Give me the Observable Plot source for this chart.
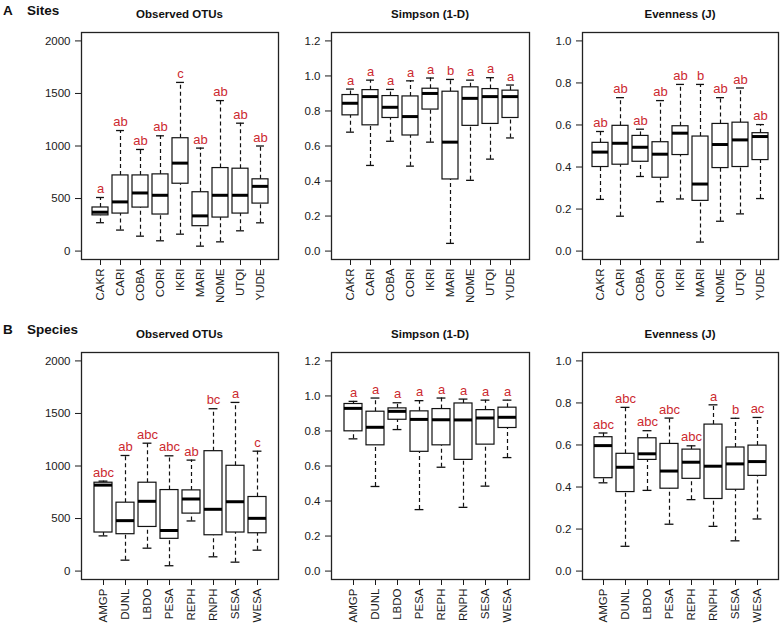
<!DOCTYPE html>
<html><head><meta charset="utf-8">
<script src="https://cdn.jsdelivr.net/npm/d3@7"></script>
<script src="https://cdn.jsdelivr.net/npm/@observablehq/plot@0.6"></script>
<style>
body{margin:0;background:#fff;font-family:"Liberation Sans",Arial,Helvetica,sans-serif;}
#root{position:relative;width:784px;height:632px;overflow:hidden;background:#fff}
.pt{position:absolute;font-weight:bold;font-size:11.5px;transform:translate(-50%,-50%);white-space:nowrap;color:#111}
.rl{position:absolute;font-weight:bold;font-size:13.5px;transform:translateY(-50%);color:#111;white-space:nowrap}
.panel{position:absolute}
</style></head><body><div id="root"></div>
<script>
// Categories
const siteCats = ["CAKR","CARI","COBA","CORI","IKRI","MARI","NOME","UTQI","YUDE"];
const speciesCats = ["AMGP","DUNL","LBDO","PESA","REPH","RNPH","SESA","WESA"];

// Box statistics per category: [lower whisker, Q1, median, Q3, upper whisker]
const sitesOTUs = [[270,340,370,415,510],[200,357,468,720,1147],[142,414,553,720,967],[98,348,531,730,1097],[161,641,837,1074,1605],[47,237,335,560,980],[88,319,531,790,1432],[193,357,531,784,1217],[269,452,616,683,1000]];
const sitesOTUsLetters = ["a","ab","ab","ab","c","ab","ab","ab","ab"];

const sitesSimpson = [[0.679,0.775,0.844,0.891,0.925],[0.489,0.718,0.882,0.919,0.976],[0.627,0.760,0.821,0.885,0.923],[0.485,0.660,0.768,0.883,0.972],[0.622,0.808,0.900,0.927,0.988],[0.044,0.409,0.622,0.910,0.980],[0.404,0.715,0.872,0.935,0.976],[0.525,0.726,0.882,0.925,0.990],[0.646,0.760,0.882,0.916,0.948]];
const sitesSimpsonLetters = ["a","a","a","a","a","b","a","a","a"];

const sitesEvenness = [[0.246,0.400,0.471,0.515,0.569],[0.166,0.411,0.513,0.596,0.730],[0.355,0.425,0.494,0.548,0.580],[0.235,0.349,0.461,0.518,0.716],[0.248,0.457,0.561,0.594,0.793],[0.043,0.239,0.319,0.545,0.793],[0.142,0.395,0.507,0.605,0.730],[0.177,0.400,0.529,0.611,0.776],[0.250,0.433,0.545,0.561,0.602]];
const sitesEvennessLetters = ["ab","ab","ab","ab","ab","b","ab","ab","ab"];

const speciesOTUs = [[335,367,818,841,856],[104,351,480,651,1100],[218,420,664,841,1217],[51,307,386,771,1097],[477,547,686,768,1056],[136,341,588,1141,1545],[85,367,660,1002,1605],[199,360,502,705,1141]];
const speciesOTUsLetters = ["abc","ab","abc","abc","ab","bc","a","c"];

const speciesSimpson = [[0.755,0.798,0.929,0.954,0.969],[0.483,0.718,0.821,0.910,0.988],[0.808,0.864,0.912,0.929,0.961],[0.351,0.681,0.866,0.912,0.973],[0.593,0.718,0.864,0.925,0.988],[0.364,0.635,0.863,0.957,0.982],[0.485,0.722,0.874,0.919,0.976],[0.648,0.817,0.878,0.933,0.976]];
const speciesSimpsonLetters = ["a","a","a","a","a","a","a","a"];

const speciesEvenness = [[0.420,0.442,0.597,0.637,0.657],[0.118,0.376,0.494,0.558,0.779],[0.384,0.529,0.558,0.632,0.668],[0.223,0.392,0.476,0.605,0.728],[0.340,0.439,0.518,0.578,0.596],[0.213,0.343,0.499,0.697,0.791],[0.144,0.387,0.510,0.588,0.727],[0.248,0.453,0.521,0.597,0.731]];
const speciesEvennessLetters = ["abc","abc","abc","abc","abc","a","b","ac"];

// Axis ticks
const otuTicks = [0,500,1000,1500,2000];
const simpsonTicks = [0,0.2,0.4,0.6,0.8,1.0,1.2];
const evennessTicks = [0,0.2,0.4,0.6,0.8,1.0];

const panelTitles = ["Observed OTUs","Simpson (1-D)","Evenness (J)"];
const rowLetters = ["A","B"];
const rowNames = ["Sites","Species"];

// Layout (styles only)
const frameLefts = [81,331,582];
const frameWidths = [197,198,196];
const frameTops = [32,352];
const frameH = 227;
const mL = 50, mR = 3, mT = 3, mB = 50;
const RED = "#cc2a30";
const font = '"Liberation Sans",Arial,Helvetica,sans-serif';

function rExtend(lo, hi){ const d = (hi-lo)*0.04; return [lo-d, hi+d]; }

const rows = [
  {cats: siteCats, panels: [[sitesOTUs,sitesOTUsLetters,otuTicks,[0,2000],d3.format("d")],[sitesSimpson,sitesSimpsonLetters,simpsonTicks,[0,1.2],d3.format(".1f")],[sitesEvenness,sitesEvennessLetters,evennessTicks,[0,1],d3.format(".1f")]]},
  {cats: speciesCats, panels: [[speciesOTUs,speciesOTUsLetters,otuTicks,[0,2000],d3.format("d")],[speciesSimpson,speciesSimpsonLetters,simpsonTicks,[0,1.2],d3.format(".1f")],[speciesEvenness,speciesEvennessLetters,evennessTicks,[0,1],d3.format(".1f")]]}
];

const root = document.getElementById("root");

rows.forEach((row, ri) => {
  const n = row.cats.length;
  // R boxplot: xlim c(0.5, n+0.5) extended 4%; boxes 0.8 wide
  const paddingOuter = (0.5 + 0.04*n) - 0.4;
  const la = document.createElement("div"); la.className = "rl";
  la.style.left = "3px"; la.style.top = (ri===0?10:329)+"px"; la.textContent = rowLetters[ri];
  root.appendChild(la);
  const ln = document.createElement("div"); ln.className = "rl";
  ln.style.left = "27px"; ln.style.top = (ri===0?10:329)+"px"; ln.textContent = rowNames[ri];
  root.appendChild(ln);

  row.panels.forEach(([stats, letters, ticks, range, fmt], ci) => {
    const data = stats.map((s,i) => ({cat: row.cats[i], lo: s[0], q1: s[1], med: s[2], q3: s[3], hi: s[4], letter: letters[i]}));
    const W = frameWidths[ci];
    const step = W / (n - 0.2 + 2*paddingOuter);
    const capInset = step*0.8*0.25;
    const t = document.createElement("div"); t.className = "pt";
    t.style.left = (frameLefts[ci] + W/2) + "px";
    t.style.top = (ri===0?14:334) + "px";
    t.textContent = panelTitles[ci];
    root.appendChild(t);

    const chart = Plot.plot({
      width: W + mL + mR, height: frameH + mT + mB,
      marginLeft: mL, marginRight: mR, marginTop: mT, marginBottom: mB,
      style: {fontFamily: font, fontSize: "11px", color: "#1a1a1a", background: "transparent", overflow: "visible"},
      x: {type: "band", domain: row.cats, paddingInner: 0.2, paddingOuter, align: 0.5},
      y: {domain: rExtend(range[0], range[1])},
      marks: [
        Plot.axisY({ticks, tickFormat: fmt, tickSize: 6, tickPadding: 5, label: null, fontSize: 11.5}),
        Plot.axisX({tickRotate: -90, tickSize: 6, tickPadding: 3, label: null, fontSize: 11.5}),
        Plot.ruleX(data, {x: "cat", y1: "q3", y2: "hi", stroke: "#111", strokeWidth: 1.2, strokeDasharray: "4,3"}),
        Plot.ruleX(data, {x: "cat", y1: "lo", y2: "q1", stroke: "#111", strokeWidth: 1.2, strokeDasharray: "4,3"}),
        Plot.tickY(data, {x: "cat", y: "hi", stroke: "#111", strokeWidth: 1.3, insetLeft: capInset, insetRight: capInset}),
        Plot.tickY(data, {x: "cat", y: "lo", stroke: "#111", strokeWidth: 1.3, insetLeft: capInset, insetRight: capInset}),
        Plot.barY(data, {x: "cat", y1: "q1", y2: "q3", fill: "white", stroke: "#111", strokeWidth: 1.2}),
        Plot.tickY(data, {x: "cat", y: "med", stroke: "#000", strokeWidth: 3}),
        Plot.text(data, {x: "cat", y: "hi", text: "letter", fill: RED, fontSize: 13, dy: -8.5}),
        Plot.frame({stroke: "#222", strokeWidth: 1.3})
      ]
    });
    const holder = document.createElement("div"); holder.className = "panel";
    holder.style.left = (frameLefts[ci] - mL) + "px";
    holder.style.top = (frameTops[ri] - mT) + "px";
    holder.appendChild(chart);
    root.appendChild(holder);
  });
});
</script></body></html>
